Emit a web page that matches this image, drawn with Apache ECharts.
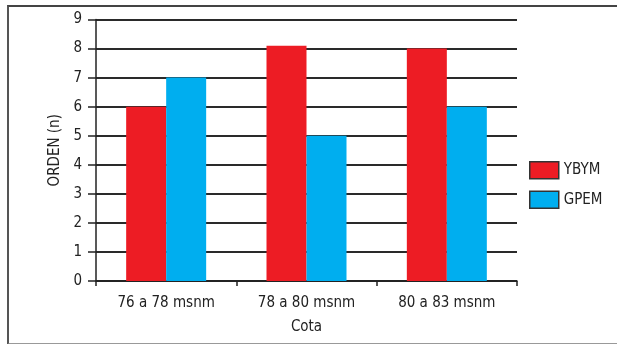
<!DOCTYPE html>
<html><head><meta charset="utf-8">
<script src="https://cdn.jsdelivr.net/npm/echarts@6/dist/echarts.min.js"></script>
<style>
html,body{margin:0;padding:0;background:#fff;}
#frame{position:absolute;left:7px;top:5px;width:620px;height:336px;border-top:2px solid #444;border-left:2px solid #555;border-bottom:2px solid #999;}
#c{position:absolute;left:0;top:0;width:617px;height:344px;}
</style></head>
<body>
<div id="frame"></div>
<div id="c"></div>
<script>
const categories = ['76 a 78 msnm', '78 a 80 msnm', '80 a 83 msnm'];
const ybym = [6, 8.1, 8.0];
const gpem = [7, 5, 6];
const yTicks = [0, 1, 2, 3, 4, 5, 6, 7, 8, 9];

const FONT = '"Liberation Sans Narrow","DejaVu Sans Condensed",sans-serif';
const FS = 15;
const chart = echarts.init(document.getElementById('c'), null, {renderer: 'canvas'});
chart.setOption({
  animation: false,
  backgroundColor: 'transparent',
  textStyle: {fontFamily: FONT},
  grid: {left: 96, right: 100, top: 19.5, bottom: 63, containLabel: false},
  legend: {
    orient: 'vertical', left: 524, top: 156, itemWidth: 29, itemHeight: 17, itemGap: 11,
    icon: 'rect',
    itemStyle: {borderColor: '#333', borderWidth: 1.5},
    textStyle: {fontFamily: FONT, fontSize: FS, color: '#222'},
    data: ['YBYM', 'GPEM']
  },
  xAxis: {
    type: 'category', data: categories,
    name: 'Cota', nameLocation: 'middle', nameGap: 39,
    nameTextStyle: {fontFamily: FONT, fontSize: FS, color: '#222'},
    axisLine: {lineStyle: {color: '#222', width: 1.5}},
    axisTick: {show: true, length: 5, lineStyle: {color: '#222', width: 1.5}},
    axisLabel: {fontFamily: FONT, fontSize: FS, color: '#222', margin: 15, interval: 0},
    splitLine: {show: false}
  },
  yAxis: {
    type: 'value', min: yTicks[0], max: yTicks[yTicks.length - 1], interval: 1,
    name: 'ORDEN (n)', nameLocation: 'middle', nameGap: 32, nameRotate: 90,
    nameTextStyle: {fontFamily: FONT, fontSize: FS, color: '#222'},
    axisLine: {show: true, lineStyle: {color: '#222', width: 1.5}},
    axisTick: {show: true, length: 8, lineStyle: {color: '#222', width: 1.5}},
    axisLabel: {fontFamily: FONT, fontSize: FS, color: '#222', margin: 14},
    splitLine: {show: true, lineStyle: {color: '#2a2a2a', width: 2}}
  },
  series: [
    {name: 'YBYM', type: 'bar', data: ybym, barWidth: 40, barGap: '0%',
     itemStyle: {color: '#ed1c24'}},
    {name: 'GPEM', type: 'bar', data: gpem, barWidth: 40, barGap: '0%',
     itemStyle: {color: '#00aeef'}}
  ]
});
</script>
</body></html>
